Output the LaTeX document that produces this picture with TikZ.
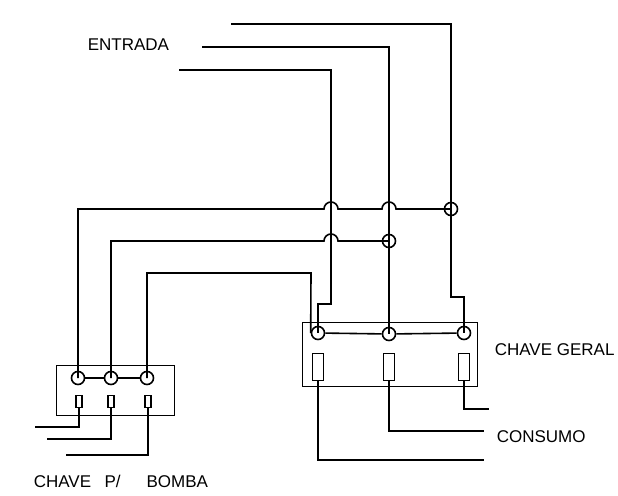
\documentclass[tikz,border=0pt]{standalone}
\usepackage{fontspec}
\setmainfont{Liberation Sans}
\begin{document}
\begin{tikzpicture}[x=1pt,y=-1pt,line width=1.6pt,
  term/.style={circle,draw,line width=1.6pt,minimum size=13pt,inner sep=0pt},
  fusebox/.style={rectangle,draw,line width=1.6pt,minimum width=11pt,minimum height=27pt,inner sep=0pt},
  smallfuse/.style={fusebox,minimum width=5.5pt,minimum height=12pt},
  panel/.style={rectangle,draw,line width=1.6pt,inner sep=0pt},
  lbl/.style={font=\fontsize{17}{20}\selectfont,inner sep=0pt,anchor=west}]
\useasboundingbox (0,0) rectangle (618,495);
% panels
\node[panel,minimum width=175pt,minimum height=64pt] (geral) at (390,354.5) {};
\node[panel,minimum width=118pt,minimum height=50pt] (bombabox) at (115.5,390.5) {};
% terminals
\node[term] (g1) at (318,333) {};
\node[term] (g2) at (389,334) {};
\node[term] (g3) at (464,333) {};
\node[term] (b1) at (78,378) {};
\node[term] (b2) at (111,378) {};
\node[term] (b3) at (147,378) {};
\node[term] (j1) at (451,209) {};
\node[term] (j2) at (389,241) {};
% fuses
\node[fusebox] (f1) at (318,367) {};
\node[fusebox] (f2) at (389,367) {};
\node[fusebox] (f3) at (464,367) {};
\node[smallfuse] (bf1) at (79,401.5) {};
\node[smallfuse] (bf2) at (111,401.5) {};
\node[smallfuse] (bf3) at (148,401.5) {};
% free ends
\coordinate (in1) at (231,24);
\coordinate (in2) at (202,47);
\coordinate (in3) at (179,70);
\coordinate (o1) at (484,460);
\coordinate (o2) at (484,431);
\coordinate (o3) at (489,409);
\coordinate (p1) at (35,427);
\coordinate (p2) at (47,439);
\coordinate (p3) at (66,455);
% bus bars
\draw (g1) -- (g2) -- (g3);
\draw (b1) -- (b2) -- (b3);
% incoming wires
\draw (in1) -| (j1.center) -- (451,297) -| (g3.center);
\draw (in2) -| (j2.center) -- (g2.center);
\draw (in3) -| (331,304) -| (g1.center);
% wires to pump switch
\draw (b1.center) |- (324,209) arc[start angle=180,end angle=0,radius=7pt]
      -- (382,209) arc[start angle=180,end angle=0,radius=7pt] -- (j1.center);
\draw (b2.center) |- (324,241) arc[start angle=180,end angle=0,radius=7pt] -- (j2.center);
\draw (b3.center) |- (311,273) -- (g1.west);
% outputs
\draw (f1.south) |- (o1);
\draw (f2.south) |- (o2);
\draw (f3.south) |- (o3);
\draw (bf1.south) |- (p1);
\draw (bf2.south) |- (p2);
\draw (bf3.south) |- (p3);
% labels
\node[lbl] (entrada) at (87,45) {ENTRADA};
\node[lbl] (chgeral) at (494,350) {CHAVE GERAL};
\node[lbl] (consumo) at (496,437) {CONSUMO};
\node[lbl] (chbomba) at (33,481) {CHAVE\hspace{13.4pt}P/\hspace{26pt}BOMBA};
\end{tikzpicture}
\end{document}
